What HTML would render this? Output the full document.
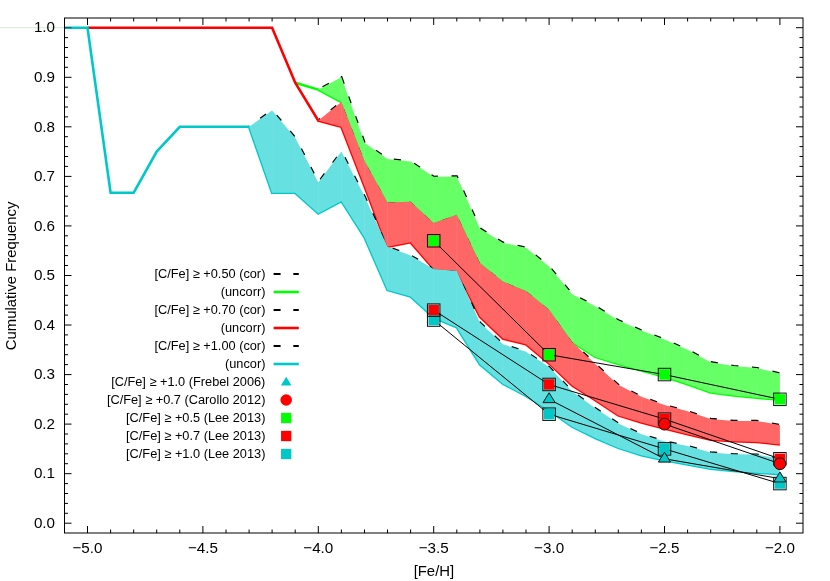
<!DOCTYPE html>
<html><head><meta charset="utf-8"><title>Cumulative Frequency</title>
<style>html,body{margin:0;padding:0;background:#fff;}svg{display:block;will-change:transform;}text{font-family:"Liberation Sans",sans-serif;fill:#000;}</style>
</head><body>
<svg width="830" height="581" viewBox="0 0 830 581">
<rect x="0" y="0" width="830" height="581" fill="#fff"/>
<defs><clipPath id="c"><rect x="64.5" y="18.0" width="738.5" height="515.0"/></clipPath></defs>
<line x1="0" y1="27.7" x2="64.5" y2="27.7" stroke="#d8ecd8" stroke-width="1"/>
<g clip-path="url(#c)" fill="none" stroke-linejoin="miter" stroke-linecap="butt">
<polyline points="318.3,89.6 341.4,77.3 364.5,142.7 387.5,159.0 410.6,161.5 433.7,176.8 456.8,176.4 479.9,228.4 502.9,242.7 526.0,247.7 549.1,266.5 572.2,294.3 595.3,306.3 618.3,320.3 641.4,330.5 664.5,339.6 687.6,349.8 710.7,362.2 733.7,366.1 756.8,368.1 779.9,373.4" stroke="#000" stroke-width="2.3" stroke-dasharray="7.2 13.63" stroke-dashoffset="15.8"/>
<polyline points="295.2,82.7 318.3,89.6 341.4,102.0 364.5,161.0 387.5,202.6 410.6,201.8 433.7,223.1 456.8,214.7 479.9,263.1 502.9,281.6 526.0,291.1 549.1,309.8 572.2,342.1 595.3,356.9 618.3,364.1 641.4,370.6 664.5,376.8 687.6,384.2 710.7,392.4 733.7,395.4 756.8,397.8 779.9,399.6" stroke="#00ff00" stroke-width="2.6"/>
<polyline points="318.3,120.6 341.4,102.0 364.5,161.0 387.5,202.6 410.6,201.8 433.7,223.1 456.8,214.7 479.9,263.1 502.9,281.6 526.0,291.1 549.1,309.8 572.2,342.1 595.3,363.9 618.3,384.8 641.4,396.7 664.5,405.1 687.6,411.3 710.7,418.9 733.7,420.9 756.8,420.9 779.9,425.1" stroke="#000" stroke-width="2.3" stroke-dasharray="7.2 13.63" stroke-dashoffset="4.6"/>
<polyline points="87.5,27.7 272.1,27.7 295.2,82.7 318.3,120.6 341.4,126.8 364.5,186.3 387.5,246.7 410.6,242.3 433.7,269.0 456.8,271.0 479.9,316.6 502.9,338.6 526.0,344.3 549.1,363.4 572.2,385.5 595.3,400.2 618.3,415.4 641.4,422.6 664.5,428.6 687.6,434.3 710.7,439.8 733.7,441.2 756.8,441.9 779.9,444.4" stroke="#ff0000" stroke-width="2.6"/>
<polyline points="249.1,126.8 272.1,110.4 295.2,137.7 318.3,182.5 341.4,151.6 364.5,196.2 387.5,246.7 410.6,255.6 433.7,269.0 456.8,271.0 479.9,322.5 502.9,344.3 526.0,351.8 549.1,367.1 572.2,391.6 595.3,408.2 618.3,423.4 641.4,434.2 664.5,441.4 687.6,446.1 710.7,452.4 733.7,454.3 756.8,454.6 779.9,458.8" stroke="#000" stroke-width="2.3" stroke-dasharray="7.2 13.63" stroke-dashoffset="6.9"/>
<polyline points="41.3,27.7 64.4,27.7 87.5,27.7 110.6,192.7 133.7,192.7 156.7,151.6 179.8,126.8 202.9,126.8 226.0,126.8 249.1,126.8 272.1,192.7 295.2,192.7 318.3,213.5 341.4,201.1 364.5,237.3 387.5,290.0 410.6,296.5 433.7,317.6 456.8,327.2 479.9,364.3 502.9,383.7 526.0,395.9 549.1,410.5 572.2,426.7 595.3,438.0 618.3,447.9 641.4,455.3 664.5,460.3 687.6,464.5 710.7,468.7 733.7,471.0 756.8,472.7 779.9,474.1" stroke="#00c8c8" stroke-width="2.6"/>
<polygon points="318.3,89.6 341.4,77.3 364.5,142.7 387.5,159.0 410.6,161.5 433.7,176.8 456.8,176.4 479.9,228.4 502.9,242.7 526.0,247.7 549.1,266.5 572.2,294.3 595.3,306.3 618.3,320.3 641.4,330.5 664.5,339.6 687.6,349.8 710.7,362.2 733.7,366.1 756.8,368.1 779.9,373.4 779.9,399.6 756.8,397.8 733.7,395.4 710.7,392.4 687.6,384.2 664.5,376.8 641.4,370.6 618.3,364.1 595.3,356.9 572.2,342.1 549.1,309.8 526.0,291.1 502.9,281.6 479.9,263.1 456.8,214.7 433.7,223.1 410.6,201.8 387.5,202.6 364.5,161.0 341.4,102.0 318.3,89.6" fill="#66ff66" stroke="none"/>
<polygon points="318.3,120.6 341.4,102.0 364.5,161.0 387.5,202.6 410.6,201.8 433.7,223.1 456.8,214.7 479.9,263.1 502.9,281.6 526.0,291.1 549.1,309.8 572.2,342.1 595.3,363.9 618.3,384.8 641.4,396.7 664.5,405.1 687.6,411.3 710.7,418.9 733.7,420.9 756.8,420.9 779.9,425.1 779.9,444.4 756.8,441.9 733.7,441.2 710.7,439.8 687.6,434.3 664.5,428.6 641.4,422.6 618.3,415.4 595.3,400.2 572.2,385.5 549.1,363.4 526.0,344.3 502.9,338.6 479.9,316.6 456.8,271.0 433.7,269.0 410.6,242.3 387.5,246.7 364.5,186.3 341.4,126.8 318.3,120.6" fill="#ff6666" stroke="none"/>
<polygon points="249.1,126.8 272.1,110.4 295.2,137.7 318.3,182.5 341.4,151.6 364.5,196.2 387.5,246.7 410.6,255.6 433.7,269.0 456.8,271.0 479.9,322.5 502.9,344.3 526.0,351.8 549.1,367.1 572.2,391.6 595.3,408.2 618.3,423.4 641.4,434.2 664.5,441.4 687.6,446.1 710.7,452.4 733.7,454.3 756.8,454.6 779.9,458.8 779.9,474.1 756.8,472.7 733.7,471.0 710.7,468.7 687.6,464.5 664.5,460.3 641.4,455.3 618.3,447.9 595.3,438.0 572.2,426.7 549.1,410.5 526.0,395.9 502.9,383.7 479.9,364.3 456.8,327.2 433.7,317.6 410.6,296.5 387.5,290.0 364.5,237.3 341.4,201.1 318.3,213.5 295.2,192.7 272.1,192.7 249.1,126.8" fill="#66e0e0" stroke="none"/>
<path d="M341.4 78.3V101.0M364.5 143.7V160.0M387.5 160.0V201.6M410.6 162.5V200.8M433.7 177.8V222.1M456.8 177.4V213.7M479.9 229.4V262.1M502.9 243.7V280.6M526.0 248.7V290.1M549.1 267.5V308.8M572.2 295.3V341.1M595.3 307.3V355.9M618.3 321.3V363.1M641.4 331.5V369.6M664.5 340.6V375.8M687.6 350.8V383.2M710.7 363.2V391.4M733.7 367.1V394.4M756.8 369.1V396.8M341.4 103.0V125.8M364.5 162.0V185.3M387.5 203.6V245.7M410.6 202.8V241.3M433.7 224.1V268.0M456.8 215.7V270.0M479.9 264.1V315.6M502.9 282.6V337.6M526.0 292.1V343.3M549.1 310.8V362.4M572.2 343.1V384.5M595.3 364.9V399.2M618.3 385.8V414.4M641.4 397.7V421.6M664.5 406.1V427.6M687.6 412.3V433.3M710.7 419.9V438.8M733.7 421.9V440.2M756.8 421.9V440.9M272.1 111.4V191.7M295.2 138.7V191.7M318.3 183.5V212.5M341.4 152.6V200.1M364.5 197.2V236.3M387.5 247.7V289.0M410.6 256.6V295.5M433.7 270.0V316.6M456.8 272.0V326.2M479.9 323.5V363.3M502.9 345.3V382.7M526.0 352.8V394.9M549.1 368.1V409.5M572.2 392.6V425.7M595.3 409.2V437.0M618.3 424.4V446.9M641.4 435.2V454.3M664.5 442.4V459.3M687.6 447.1V463.5M710.7 453.4V467.7M733.7 455.3V470.0M756.8 455.6V471.7" stroke="#fff" stroke-opacity="0.08" stroke-width="1"/>
</g>
<g stroke="#000" stroke-width="1" fill="none">
<path d="M87.5 533.0v-7M87.5 18.0v7M110.6 533.0v-3.5M110.6 18.0v3.5M133.7 533.0v-3.5M133.7 18.0v3.5M156.7 533.0v-3.5M156.7 18.0v3.5M179.8 533.0v-3.5M179.8 18.0v3.5M202.9 533.0v-7M202.9 18.0v7M226.0 533.0v-3.5M226.0 18.0v3.5M249.1 533.0v-3.5M249.1 18.0v3.5M272.1 533.0v-3.5M272.1 18.0v3.5M295.2 533.0v-3.5M295.2 18.0v3.5M318.3 533.0v-7M318.3 18.0v7M341.4 533.0v-3.5M341.4 18.0v3.5M364.5 533.0v-3.5M364.5 18.0v3.5M387.5 533.0v-3.5M387.5 18.0v3.5M410.6 533.0v-3.5M410.6 18.0v3.5M433.7 533.0v-7M433.7 18.0v7M456.8 533.0v-3.5M456.8 18.0v3.5M479.9 533.0v-3.5M479.9 18.0v3.5M502.9 533.0v-3.5M502.9 18.0v3.5M526.0 533.0v-3.5M526.0 18.0v3.5M549.1 533.0v-7M549.1 18.0v7M572.2 533.0v-3.5M572.2 18.0v3.5M595.3 533.0v-3.5M595.3 18.0v3.5M618.3 533.0v-3.5M618.3 18.0v3.5M641.4 533.0v-3.5M641.4 18.0v3.5M664.5 533.0v-7M664.5 18.0v7M687.6 533.0v-3.5M687.6 18.0v3.5M710.7 533.0v-3.5M710.7 18.0v3.5M733.7 533.0v-3.5M733.7 18.0v3.5M756.8 533.0v-3.5M756.8 18.0v3.5M779.9 533.0v-7M779.9 18.0v7M64.5 523.2h7M803.0 523.2h-7M64.5 513.3h3.5M803.0 513.3h-3.5M64.5 503.4h3.5M803.0 503.4h-3.5M64.5 493.5h3.5M803.0 493.5h-3.5M64.5 483.6h3.5M803.0 483.6h-3.5M64.5 473.7h7M803.0 473.7h-7M64.5 463.7h3.5M803.0 463.7h-3.5M64.5 453.8h3.5M803.0 453.8h-3.5M64.5 443.9h3.5M803.0 443.9h-3.5M64.5 434.0h3.5M803.0 434.0h-3.5M64.5 424.1h7M803.0 424.1h-7M64.5 414.2h3.5M803.0 414.2h-3.5M64.5 404.3h3.5M803.0 404.3h-3.5M64.5 394.4h3.5M803.0 394.4h-3.5M64.5 384.5h3.5M803.0 384.5h-3.5M64.5 374.6h7M803.0 374.6h-7M64.5 364.6h3.5M803.0 364.6h-3.5M64.5 354.7h3.5M803.0 354.7h-3.5M64.5 344.8h3.5M803.0 344.8h-3.5M64.5 334.9h3.5M803.0 334.9h-3.5M64.5 325.0h7M803.0 325.0h-7M64.5 315.1h3.5M803.0 315.1h-3.5M64.5 305.2h3.5M803.0 305.2h-3.5M64.5 295.3h3.5M803.0 295.3h-3.5M64.5 285.4h3.5M803.0 285.4h-3.5M64.5 275.5h7M803.0 275.5h-7M64.5 265.5h3.5M803.0 265.5h-3.5M64.5 255.6h3.5M803.0 255.6h-3.5M64.5 245.7h3.5M803.0 245.7h-3.5M64.5 235.8h3.5M803.0 235.8h-3.5M64.5 225.9h7M803.0 225.9h-7M64.5 216.0h3.5M803.0 216.0h-3.5M64.5 206.1h3.5M803.0 206.1h-3.5M64.5 196.2h3.5M803.0 196.2h-3.5M64.5 186.3h3.5M803.0 186.3h-3.5M64.5 176.4h7M803.0 176.4h-7M64.5 166.4h3.5M803.0 166.4h-3.5M64.5 156.5h3.5M803.0 156.5h-3.5M64.5 146.6h3.5M803.0 146.6h-3.5M64.5 136.7h3.5M803.0 136.7h-3.5M64.5 126.8h7M803.0 126.8h-7M64.5 116.9h3.5M803.0 116.9h-3.5M64.5 107.0h3.5M803.0 107.0h-3.5M64.5 97.1h3.5M803.0 97.1h-3.5M64.5 87.2h3.5M803.0 87.2h-3.5M64.5 77.3h7M803.0 77.3h-7M64.5 67.3h3.5M803.0 67.3h-3.5M64.5 57.4h3.5M803.0 57.4h-3.5M64.5 47.5h3.5M803.0 47.5h-3.5M64.5 37.6h3.5M803.0 37.6h-3.5M803.0 27.7h-7"/>
<path d="M64.5 27.7h7" stroke="#00545c"/>
<rect x="64.5" y="18.0" width="738.5" height="515.0"/>
</g>
<g stroke="#000" stroke-width="1" fill="none">
<polyline points="433.7,320.0 549.1,414.2 664.5,448.9 779.9,483.6"/>
<polyline points="433.7,310.1 549.1,384.5 664.5,419.1 779.9,458.8"/>
<polyline points="433.7,240.8 549.1,354.7 664.5,374.6 779.9,399.3"/>
<polyline points="664.5,424.1 779.9,463.7"/>
<polyline points="549.1,399.3 664.5,458.8 779.9,478.6"/>
</g>
<rect x="428.50" y="314.85" width="10.4" height="10.4" fill="#00c8c8"/><rect x="427.45" y="313.80" width="12.5" height="12.5" fill="none" stroke="#111" stroke-width="1"/>
<rect x="543.90" y="408.99" width="10.4" height="10.4" fill="#00c8c8"/><rect x="542.85" y="407.94" width="12.5" height="12.5" fill="none" stroke="#111" stroke-width="1"/>
<rect x="659.30" y="443.68" width="10.4" height="10.4" fill="#00c8c8"/><rect x="658.25" y="442.63" width="12.5" height="12.5" fill="none" stroke="#111" stroke-width="1"/>
<rect x="774.70" y="478.36" width="10.4" height="10.4" fill="#00c8c8"/><rect x="773.65" y="477.31" width="12.5" height="12.5" fill="none" stroke="#111" stroke-width="1"/>
<rect x="428.50" y="304.94" width="10.4" height="10.4" fill="#ff0000"/><rect x="427.45" y="303.89" width="12.5" height="12.5" fill="none" stroke="#111" stroke-width="1"/>
<rect x="543.90" y="379.26" width="10.4" height="10.4" fill="#ff0000"/><rect x="542.85" y="378.21" width="12.5" height="12.5" fill="none" stroke="#111" stroke-width="1"/>
<rect x="659.30" y="413.95" width="10.4" height="10.4" fill="#ff0000"/><rect x="658.25" y="412.90" width="12.5" height="12.5" fill="none" stroke="#111" stroke-width="1"/>
<rect x="774.70" y="453.59" width="10.4" height="10.4" fill="#ff0000"/><rect x="773.65" y="452.54" width="12.5" height="12.5" fill="none" stroke="#111" stroke-width="1"/>
<rect x="428.50" y="235.57" width="10.4" height="10.4" fill="#00ff00"/><rect x="427.45" y="234.52" width="12.5" height="12.5" fill="none" stroke="#111" stroke-width="1"/>
<rect x="543.90" y="349.53" width="10.4" height="10.4" fill="#00ff00"/><rect x="542.85" y="348.48" width="12.5" height="12.5" fill="none" stroke="#111" stroke-width="1"/>
<rect x="659.30" y="369.35" width="10.4" height="10.4" fill="#00ff00"/><rect x="658.25" y="368.30" width="12.5" height="12.5" fill="none" stroke="#111" stroke-width="1"/>
<rect x="774.70" y="394.13" width="10.4" height="10.4" fill="#00ff00"/><rect x="773.65" y="393.08" width="12.5" height="12.5" fill="none" stroke="#111" stroke-width="1"/>
<circle cx="664.50" cy="424.10" r="5.9" fill="#ff0000" stroke="#111" stroke-width="1"/>
<circle cx="779.90" cy="463.74" r="5.9" fill="#ff0000" stroke="#111" stroke-width="1"/>
<polygon points="549.10,392.73 555.20,402.63 543.00,402.63" fill="#00c8c8" stroke="#111" stroke-width="1" stroke-linejoin="miter"/>
<polygon points="664.50,452.19 670.60,462.09 658.40,462.09" fill="#00c8c8" stroke="#111" stroke-width="1" stroke-linejoin="miter"/>
<polygon points="779.90,472.00 786.00,481.91 773.80,481.91" fill="#00c8c8" stroke="#111" stroke-width="1" stroke-linejoin="miter"/>
<text x="87.5" y="552.8" font-size="15.2" text-anchor="middle">−5.0</text>
<text x="202.9" y="552.8" font-size="15.2" text-anchor="middle">−4.5</text>
<text x="318.3" y="552.8" font-size="15.2" text-anchor="middle">−4.0</text>
<text x="433.7" y="552.8" font-size="15.2" text-anchor="middle">−3.5</text>
<text x="549.1" y="552.8" font-size="15.2" text-anchor="middle">−3.0</text>
<text x="664.5" y="552.8" font-size="15.2" text-anchor="middle">−2.5</text>
<text x="779.9" y="552.8" font-size="15.2" text-anchor="middle">−2.0</text>
<text x="55" y="527.9" font-size="15.2" text-anchor="end">0.0</text>
<text x="55" y="478.4" font-size="15.2" text-anchor="end">0.1</text>
<text x="55" y="428.8" font-size="15.2" text-anchor="end">0.2</text>
<text x="55" y="379.2" font-size="15.2" text-anchor="end">0.3</text>
<text x="55" y="329.7" font-size="15.2" text-anchor="end">0.4</text>
<text x="55" y="280.2" font-size="15.2" text-anchor="end">0.5</text>
<text x="55" y="230.6" font-size="15.2" text-anchor="end">0.6</text>
<text x="55" y="181.1" font-size="15.2" text-anchor="end">0.7</text>
<text x="55" y="131.5" font-size="15.2" text-anchor="end">0.8</text>
<text x="55" y="82.0" font-size="15.2" text-anchor="end">0.9</text>
<text x="55" y="32.4" font-size="15.2" text-anchor="end">1.0</text>
<text x="433.9" y="575.5" font-size="14.9" text-anchor="middle">[Fe/H]</text>
<text transform="translate(16.3,275.9) rotate(-90)" font-size="14.85" text-anchor="middle">Cumulative Frequency</text>
<text x="265.4" y="278.4" font-size="12.77" text-anchor="end">[C/Fe] ≥ +0.50 (cor)</text>
<text x="265.4" y="296.4" font-size="12.77" text-anchor="end">(uncorr)</text>
<text x="265.4" y="314.4" font-size="12.77" text-anchor="end">[C/Fe] ≥ +0.70 (cor)</text>
<text x="265.4" y="332.4" font-size="12.77" text-anchor="end">(uncorr)</text>
<text x="265.4" y="350.4" font-size="12.77" text-anchor="end">[C/Fe] ≥ +1.00 (cor)</text>
<text x="265.4" y="368.4" font-size="12.77" text-anchor="end">(uncor)</text>
<text x="265.4" y="386.4" font-size="12.77" text-anchor="end">[C/Fe] ≥ +1.0 (Frebel 2006)</text>
<text x="265.4" y="404.4" font-size="12.77" text-anchor="end">[C/Fe] ≥ +0.7 (Carollo 2012)</text>
<text x="265.4" y="422.4" font-size="12.77" text-anchor="end">[C/Fe] ≥ +0.5 (Lee 2013)</text>
<text x="265.4" y="440.4" font-size="12.77" text-anchor="end">[C/Fe] ≥ +0.7 (Lee 2013)</text>
<text x="265.4" y="458.4" font-size="12.77" text-anchor="end">[C/Fe] ≥ +1.0 (Lee 2013)</text>
<line x1="273.6" y1="274" x2="298.8" y2="274" stroke="#000" stroke-width="2" stroke-dasharray="7 12.7"/>
<line x1="273.6" y1="292" x2="298.8" y2="292" stroke="#00ff00" stroke-width="2.6"/>
<line x1="273.6" y1="310" x2="298.8" y2="310" stroke="#000" stroke-width="2" stroke-dasharray="7 12.7"/>
<line x1="273.6" y1="328" x2="298.8" y2="328" stroke="#ff0000" stroke-width="2.6"/>
<line x1="273.6" y1="346" x2="298.8" y2="346" stroke="#000" stroke-width="2" stroke-dasharray="7 12.7"/>
<line x1="273.6" y1="364" x2="298.8" y2="364" stroke="#00c8c8" stroke-width="2.6"/>
<polygon points="286.20,376.63 291.50,385.43 280.90,385.43" fill="#00c8c8"/>
<circle cx="286.20" cy="400.00" r="5.8" fill="#ff0000"/>
<rect x="281.05" y="412.85" width="10.3" height="10.3" fill="#00ff00"/>
<rect x="281.05" y="430.85" width="10.3" height="10.3" fill="#ff0000"/>
<rect x="281.05" y="448.85" width="10.3" height="10.3" fill="#00c8c8"/>
</svg></body></html>
